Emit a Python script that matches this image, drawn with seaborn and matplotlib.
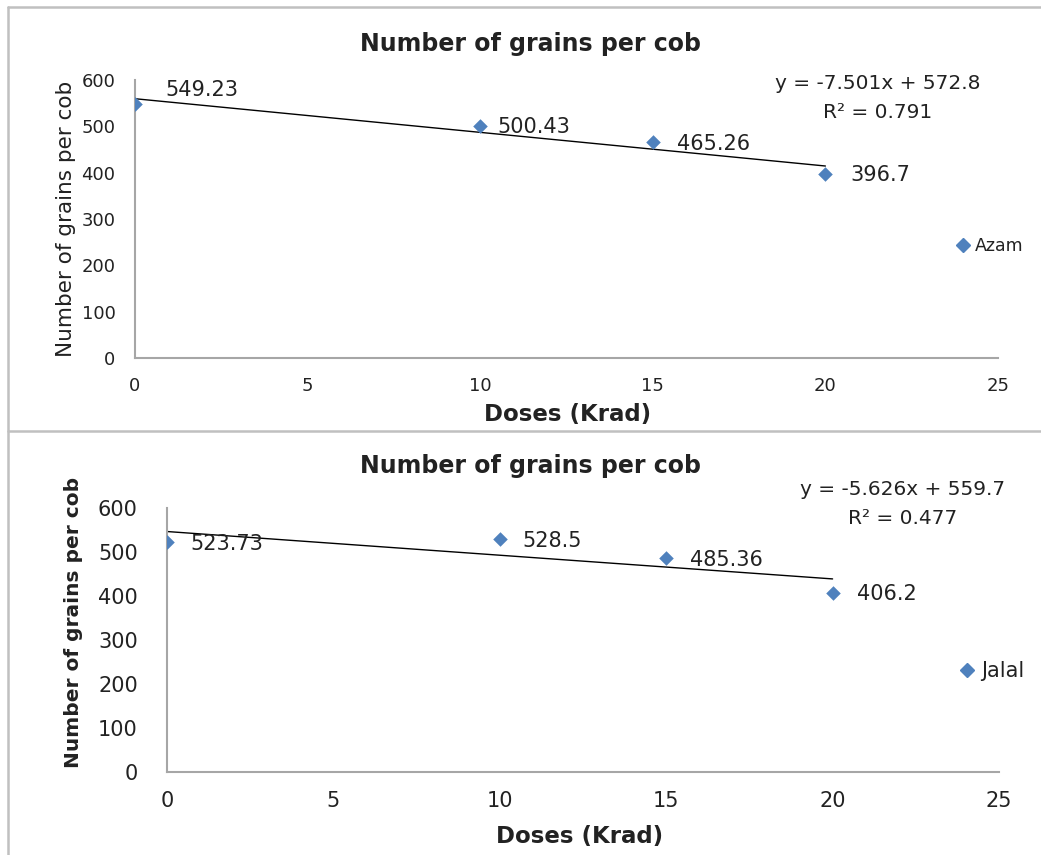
import matplotlib
matplotlib.use("Agg")
import matplotlib.pyplot as plt
from matplotlib.lines import Line2D
import seaborn as sns
import pandas as pd

# ---- data ----
doses = [0, 10, 15, 20]
azam = [549.23, 500.43, 465.26, 396.7]
jalal = [523.73, 528.5, 485.36, 406.2]
azam_eq = "y = -7.501x + 572.8\nR² = 0.791"
jalal_eq = "y = -5.626x + 559.7\nR² = 0.477"
title = "Number of grains per cob"
xlabel = "Doses (Krad)"
ylabel = "Number of grains per cob"
xticks = [0, 5, 10, 15, 20, 25]
yticks = [0, 100, 200, 300, 400, 500, 600]

sns.set_style("white")
plt.rcParams['font.family'] = ['DejaVu Sans']

W, H = 1041, 855
fig = plt.figure(figsize=(W / 100, H / 100), dpi=100)

BLUE = "#4F81BD"
AXC = "#A6A6A6"
TXT = "#222222"
PX = 0.72  # points per pixel


def ax_at(l, t, r, b):
    return fig.add_axes([l / W, 1 - b / H, (r - l) / W, (b - t) / H])


def draw(ax, vals, name, eq, label_offsets, tick_fs, ypad, eq_xy, leg_xy, leg_fs):
    df = pd.DataFrame({"dose": doses, "grains": vals})
    sns.regplot(data=df, x="dose", y="grains", ax=ax, ci=None, scatter=False,
                line_kws=dict(color="black", lw=1.0))
    sns.scatterplot(data=df, x="dose", y="grains", ax=ax, marker="D",
                    s=55, color=BLUE, edgecolor=BLUE, linewidth=0, zorder=5)
    ax.set_xlim(0, 25)
    ax.set_ylim(0, 600)
    ax.set_xticks(xticks)
    ax.set_yticks(yticks)
    for s in ("top", "right"):
        ax.spines[s].set_visible(False)
    for s in ("left", "bottom"):
        ax.spines[s].set_color(AXC)
        ax.spines[s].set_linewidth(1.5)
    ax.tick_params(axis="both", direction="out", length=6, width=1.5,
                   color=AXC, labelsize=tick_fs, labelcolor=TXT)
    ax.tick_params(axis="x", pad=8)
    ax.tick_params(axis="y", pad=ypad)
    ax.set_xlabel("")
    ax.set_ylabel("")
    for x, y, off in zip(doses, vals, label_offsets):
        ax.annotate(f"{y:g}", (x, y), xytext=(off[0] * PX, off[1] * PX),
                    textcoords="offset points", ha="left", va="center",
                    fontsize=15, color=TXT)
    fig.text(eq_xy[0], eq_xy[1], eq, ha="center",
             va="top", fontsize=14.5, color=TXT, linespacing=1.65,
             multialignment="center")
    h = Line2D([], [], marker="D", color=BLUE, lw=0, markersize=7)
    fig.legend([h], [name], loc="center left",
               bbox_to_anchor=(leg_xy[0] / W, 1 - leg_xy[1] / H), frameon=False,
               fontsize=leg_fs, handlelength=0.8, handletextpad=0.3, borderpad=0,
               labelcolor=TXT)


# top chart
ax1 = ax_at(135, 80, 998, 358)
draw(ax1, azam, "Azam", azam_eq,
     [(30, 14), (17, -1), (24, -2), (25, -1)], 13, 8,
     (878 / W, 1 - 74 / H), (947, 246), 12.5)
fig.text(530 / W, 1 - 44 / H, title, ha="center", va="center",
         fontsize=17, fontweight="bold", color=TXT)
fig.text(568 / W, 1 - 414 / H, xlabel, ha="center", va="center",
         fontsize=16.5, fontweight="bold", color=TXT)
fig.text(66 / W, 1 - 219 / H, ylabel, ha="center", va="center",
         rotation=90, fontsize=15.5, color=TXT)

# bottom chart
ax2 = ax_at(167, 508, 999, 772)
draw(ax2, jalal, "Jalal", jalal_eq,
     [(23, -2), (23, -2), (24, -2), (24, -1)], 15, 15,
     (903 / W, 1 - 480 / H), (948, 671), 15)
fig.text(530 / W, 1 - 466 / H, title, ha="center", va="center",
         fontsize=17, fontweight="bold", color=TXT)
fig.text(580 / W, 1 - 836 / H, xlabel, ha="center", va="center",
         fontsize=16.5, fontweight="bold", color=TXT)
fig.text(74 / W, 1 - 622 / H, ylabel, ha="center", va="center",
         rotation=90, fontsize=14.5, fontweight="bold", color=TXT)

# chart borders
BC = "#C0C0C0"
fig.add_artist(Line2D([8 / W, 8 / W], [1 - 7 / H, 0], color=BC, lw=1.8,
                      transform=fig.transFigure))
fig.add_artist(Line2D([8 / W, 1], [1 - 7 / H, 1 - 7 / H], color=BC, lw=1.8,
                      transform=fig.transFigure))
fig.add_artist(Line2D([8 / W, 1], [1 - 431 / H, 1 - 431 / H], color=BC, lw=1.8,
                      transform=fig.transFigure))

fig.savefig("out.png", dpi=100)
